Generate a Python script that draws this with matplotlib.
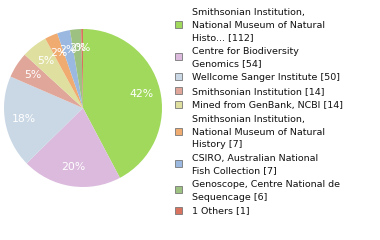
import matplotlib
matplotlib.use("Agg")
import matplotlib.pyplot as plt
from matplotlib.patches import Rectangle

labels = ["Smithsonian Institution,\nNational Museum of Natural\nHisto... [112]",
          "Centre for Biodiversity\nGenomics [54]",
          "Wellcome Sanger Institute [50]",
          "Smithsonian Institution [14]",
          "Mined from GenBank, NCBI [14]",
          "Smithsonian Institution,\nNational Museum of Natural\nHistory [7]",
          "CSIRO, Australian National\nFish Collection [7]",
          "Genoscope, Centre National de\nSequencage [6]",
          "1 Others [1]"]
counts = [112, 54, 50, 14, 14, 7, 7, 6, 1]
colors = ["#a0d95c", "#dbbadd", "#cad8e5", "#e0a699", "#dfe0a0",
          "#f0ab70", "#9bb9e0", "#9dc180", "#d9735f"]

fig = plt.figure(figsize=(3.8, 2.4), dpi=100)
ax = fig.add_axes([(83 - 79) / 380, 1 - (108 + 79) / 240, 158 / 380, 158 / 240])
wedges, texts, autotexts = ax.pie(
    counts, colors=colors, startangle=90, counterclock=False,
    autopct=lambda p: "%d%%" % int(p + 1e-9),
    pctdistance=0.76, wedgeprops=dict(linewidth=0),
    textprops=dict(color="white", fontsize=7.8))
ax.set_xlim(-1, 1)
ax.set_ylim(-1, 1)
ax.set_aspect("equal")
ax.axis("off")

# legend drawn by hand so the multi-line entries line up like the original
y = 12
fs = 6.8
line_h = 12.3
for lab, col in zip(labels, colors):
    lines = lab.split("\n")
    n = len(lines)
    for i, ln in enumerate(lines):
        fig.text(192 / 380, 1 - (y + i * line_h) / 240, ln, fontsize=fs,
                 va="center_baseline", ha="left", color="#111111")
    mid = y + (n - 1) * line_h / 2
    fig.patches.append(Rectangle((175 / 380, 1 - (mid + 3.5) / 240), 7 / 380, 7 / 240,
                                 transform=fig.transFigure, facecolor=col,
                                 edgecolor="#777777", linewidth=0.6))
    y = y + (n - 1) * line_h + 14

fig.savefig("out.png", dpi=100)
